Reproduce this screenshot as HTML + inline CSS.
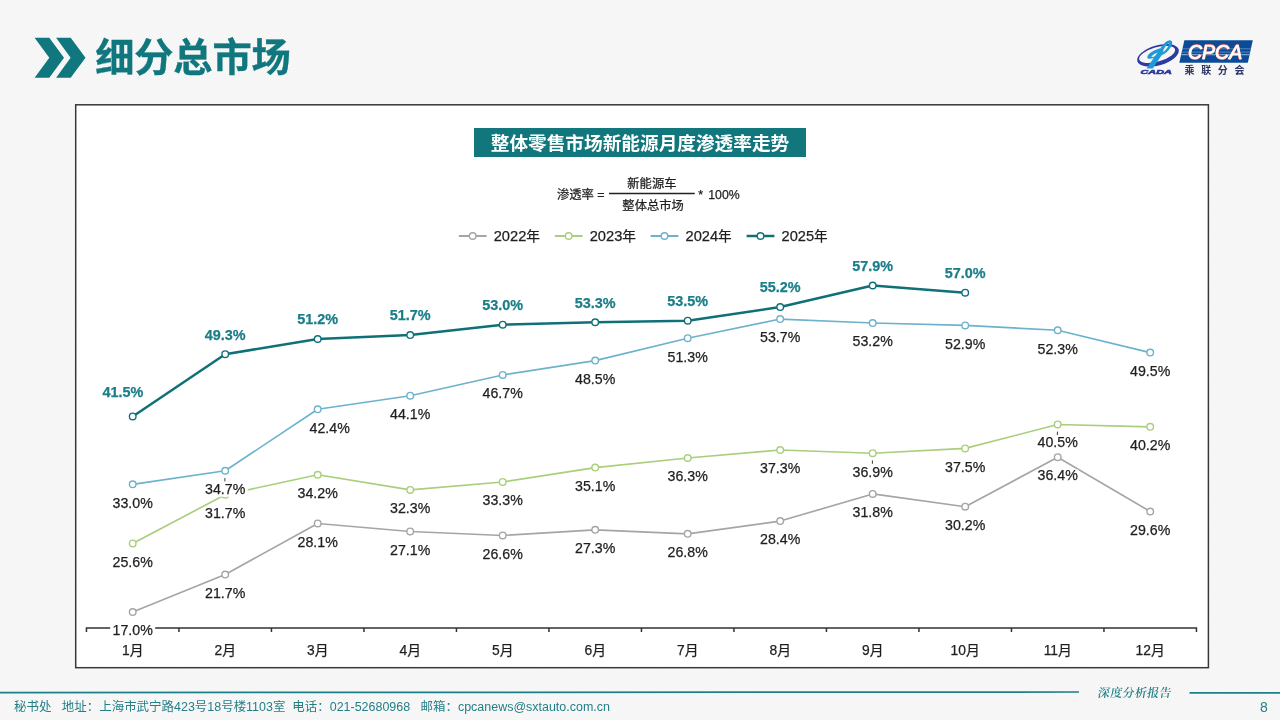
<!DOCTYPE html>
<html lang="zh-CN">
<head>
<meta charset="utf-8">
<title>细分总市场</title>
<style>
html,body{margin:0;padding:0;}
body{width:1280px;height:720px;overflow:hidden;position:relative;font-family:"Liberation Sans", "Noto Sans CJK SC", sans-serif;
background-color:#f5f5f5;
background-image:linear-gradient(135deg,#f9f9f9 25%,#f1f1f1 25%,#f1f1f1 50%,#f9f9f9 50%,#f9f9f9 75%,#f1f1f1 75%);background-size:3px 3px;}
.abs{position:absolute;}
.chev{position:absolute;left:0;top:0;}
h1{position:absolute;left:95.3px;top:28.6px;margin:0;font-size:39.2px;line-height:58px;font-weight:700;color:#0F777D;
font-family:"Liberation Sans","Noto Sans CJK SC",sans-serif;letter-spacing:-0.15px;white-space:nowrap;-webkit-text-stroke:0.35px #0F777D;}
.box{position:absolute;left:75px;top:104px;width:1134px;height:565px;background:#fff;}
.banner{position:absolute;left:474.4px;top:127.6px;width:331.2px;height:29.3px;background:#11777C;color:#fff;
font-weight:700;font-size:18.67px;line-height:31px;text-align:center;overflow:hidden;white-space:nowrap;letter-spacing:0;}
.chart{position:absolute;left:0;top:0;}
.chart text{font-family:"Liberation Sans", "Noto Sans CJK SC", sans-serif;fill:#1f1f1f;stroke:#1f1f1f;stroke-width:0.25px;}
.chart .cat{font-size:13.8px;text-anchor:middle;}
.chart .lb{font-size:14.2px;text-anchor:middle;}
.chart .lb.b{font-weight:700;fill:#1A7E88;stroke:#1A7E88;font-size:14.4px;}
.chart .lg{font-size:14.67px;}
.chart .fm{font-size:12.3px;}
.fl{position:absolute;left:0;top:686px;}
.ftxt{position:absolute;left:14px;top:698.2px;font-size:12.47px;line-height:18px;color:#237F86;white-space:pre;}
.rep{position:absolute;left:1097.5px;top:684.3px;width:76px;font-family:"Liberation Serif","Noto Serif CJK SC",serif;font-weight:600;
font-size:12px;line-height:18px;color:#237F86;white-space:nowrap;letter-spacing:0.3px;transform:skewX(-9deg);}
.cpca{position:absolute;left:1187.8px;top:40.2px;font-style:italic;font-size:19.8px;line-height:24px;color:#fff;white-space:nowrap;transform-origin:0 0;transform:scaleX(0.985);-webkit-text-stroke:0.7px #fff;text-shadow:0.6px 0 0 #D9605A,-0.6px 0 0 #D9605A,0 0.6px 0 #D9605A,0 -0.6px 0 #D9605A,0.45px 0.45px 0 #D9605A,-0.45px 0.45px 0 #D9605A,0.45px -0.45px 0 #D9605A,-0.45px -0.45px 0 #D9605A;}
.pg{position:absolute;left:1256px;top:698px;width:16px;text-align:center;font-size:14px;line-height:18px;color:#237F86;}
</style>
</head>
<body>
<svg class="chev" width="100" height="90" viewBox="0 0 100 90">
<path d="M34.6 37.7H49.3L64 57.7L49.3 77.7H34.6L49.3 57.7Z" fill="#0F777D"/>
<path d="M56.1 37.7H70.7L85.5 57.7L70.7 77.7H56.1L70.6 57.7Z" fill="#0F777D"/>
</svg>
<h1>细分总市场</h1>
<svg class="logo" width="160" height="60" viewBox="1120 30 160 60" style="position:absolute;left:1120px;top:30px;">
<g transform="rotate(-16 1158 55.3)">
<path fill="#2E3A9F" fill-rule="evenodd" d="M1136.5 55.3a21.5 10 0 1 0 43 0a21.5 10 0 1 0 -43 0ZM1138.8 54.2a18.6 7.2 0 1 0 37.2 0a18.6 7.2 0 1 0 -37.2 0Z"/>
</g>
<path fill="#1E9AD8" d="M1146.6 68.6L1153.8 57.8C1150 59.6 1146.6 59 1147.4 56.4C1148.4 53.2 1154.6 49.6 1160.6 48.2C1163.4 43.6 1167.6 39.8 1170.6 40.4C1173.4 41.2 1172.6 46.4 1167.4 51.4C1165.6 53 1163.6 54.2 1161.6 55.2L1152.8 68.6ZM1157.6 52.4C1154.6 53.6 1151.8 55.4 1151.4 56.6C1151.4 57.4 1153.2 57 1154.8 56.2ZM1163.2 52.2C1166.4 49.6 1169.4 45.4 1169 43.2C1167.8 43.4 1165.2 46.6 1163.4 50Z"/>
<text x="1140.5" y="74.2" font-family="'Liberation Sans',sans-serif" font-weight="700" font-style="italic" font-size="5.8" fill="#2E3A9F" stroke="#2E3A9F" stroke-width="0.55" textLength="31.3" lengthAdjust="spacingAndGlyphs">CADA</text>
<path fill="#0C4B97" d="M1184.4 40.2H1252.8L1247.8 62.7H1179.3Z"/>
<path stroke="#7FB0DD" stroke-width="0.6" fill="none" d="M1182.4 48.8H1250.8M1181.7 52.1H1250.1"/>
<path stroke="#6FA6D6" stroke-width="1.3" fill="none" d="M1181.2 54.7H1249.6"/>
<text x="1184.5" y="74.3" font-family="'Liberation Sans','Noto Sans CJK SC',sans-serif" font-weight="700" font-size="10" fill="#2B3566" textLength="60" lengthAdjust="spacing">乘联分会</text>
</svg>

<div class="cpca">CPCA</div>
<div class="box"></div>
<svg class="chev" width="1280" height="720" viewBox="0 0 1280 720"><rect x="75.7" y="104.8" width="1132.7" height="562.9" fill="#fff" stroke="#383838" stroke-width="1.5"/></svg>
<div class="banner">整体零售市场新能源月度渗透率走势</div>
<svg class="chart" width="1280" height="720" viewBox="0 0 1280 720">
<path d="M86.45 632 V627.9 H1196.45 V632" fill="none" stroke="#333" stroke-width="1.5"/>
<path d="M178.95 627.9V632M271.45 627.9V632M363.95 627.9V632M456.45 627.9V632M548.95 627.9V632M641.45 627.9V632M733.95 627.9V632M826.45 627.9V632M918.95 627.9V632M1011.45 627.9V632M1103.95 627.9V632" fill="none" stroke="#333" stroke-width="1.5"/>
<text class="cat" x="132.70" y="655.0">1月</text>
<text class="cat" x="225.20" y="655.0">2月</text>
<text class="cat" x="317.70" y="655.0">3月</text>
<text class="cat" x="410.20" y="655.0">4月</text>
<text class="cat" x="502.70" y="655.0">5月</text>
<text class="cat" x="595.20" y="655.0">6月</text>
<text class="cat" x="687.70" y="655.0">7月</text>
<text class="cat" x="780.20" y="655.0">8月</text>
<text class="cat" x="872.70" y="655.0">9月</text>
<text class="cat" x="965.20" y="655.0">10月</text>
<text class="cat" x="1057.70" y="655.0">11月</text>
<text class="cat" x="1150.20" y="655.0">12月</text>
<polyline points="132.70,612.11 225.20,574.58 317.70,523.47 410.20,531.46 502.70,535.45 595.20,529.86 687.70,533.85 780.20,521.08 872.70,493.93 965.20,506.70 1057.70,457.20 1150.20,511.49" fill="none" stroke="#A5A5A5" stroke-width="1.65" stroke-linejoin="round" stroke-linecap="round"/>
<circle cx="132.70" cy="612.11" r="3.3" fill="#fff" stroke="#A5A5A5" stroke-width="1.4"/>
<circle cx="225.20" cy="574.58" r="3.3" fill="#fff" stroke="#A5A5A5" stroke-width="1.4"/>
<circle cx="317.70" cy="523.47" r="3.3" fill="#fff" stroke="#A5A5A5" stroke-width="1.4"/>
<circle cx="410.20" cy="531.46" r="3.3" fill="#fff" stroke="#A5A5A5" stroke-width="1.4"/>
<circle cx="502.70" cy="535.45" r="3.3" fill="#fff" stroke="#A5A5A5" stroke-width="1.4"/>
<circle cx="595.20" cy="529.86" r="3.3" fill="#fff" stroke="#A5A5A5" stroke-width="1.4"/>
<circle cx="687.70" cy="533.85" r="3.3" fill="#fff" stroke="#A5A5A5" stroke-width="1.4"/>
<circle cx="780.20" cy="521.08" r="3.3" fill="#fff" stroke="#A5A5A5" stroke-width="1.4"/>
<circle cx="872.70" cy="493.93" r="3.3" fill="#fff" stroke="#A5A5A5" stroke-width="1.4"/>
<circle cx="965.20" cy="506.70" r="3.3" fill="#fff" stroke="#A5A5A5" stroke-width="1.4"/>
<circle cx="1057.70" cy="457.20" r="3.3" fill="#fff" stroke="#A5A5A5" stroke-width="1.4"/>
<circle cx="1150.20" cy="511.49" r="3.3" fill="#fff" stroke="#A5A5A5" stroke-width="1.4"/>
<polyline points="132.70,543.43 225.20,494.73 317.70,474.76 410.20,489.93 502.70,481.95 595.20,467.58 687.70,457.99 780.20,450.01 872.70,453.20 965.20,448.41 1057.70,424.46 1150.20,426.85" fill="none" stroke="#A9CE7C" stroke-width="1.65" stroke-linejoin="round" stroke-linecap="round"/>
<circle cx="132.70" cy="543.43" r="3.3" fill="#fff" stroke="#A9CE7C" stroke-width="1.4"/>
<circle cx="225.20" cy="494.73" r="3.3" fill="#fff" stroke="#A9CE7C" stroke-width="1.4"/>
<circle cx="317.70" cy="474.76" r="3.3" fill="#fff" stroke="#A9CE7C" stroke-width="1.4"/>
<circle cx="410.20" cy="489.93" r="3.3" fill="#fff" stroke="#A9CE7C" stroke-width="1.4"/>
<circle cx="502.70" cy="481.95" r="3.3" fill="#fff" stroke="#A9CE7C" stroke-width="1.4"/>
<circle cx="595.20" cy="467.58" r="3.3" fill="#fff" stroke="#A9CE7C" stroke-width="1.4"/>
<circle cx="687.70" cy="457.99" r="3.3" fill="#fff" stroke="#A9CE7C" stroke-width="1.4"/>
<circle cx="780.20" cy="450.01" r="3.3" fill="#fff" stroke="#A9CE7C" stroke-width="1.4"/>
<circle cx="872.70" cy="453.20" r="3.3" fill="#fff" stroke="#A9CE7C" stroke-width="1.4"/>
<circle cx="965.20" cy="448.41" r="3.3" fill="#fff" stroke="#A9CE7C" stroke-width="1.4"/>
<circle cx="1057.70" cy="424.46" r="3.3" fill="#fff" stroke="#A9CE7C" stroke-width="1.4"/>
<circle cx="1150.20" cy="426.85" r="3.3" fill="#fff" stroke="#A9CE7C" stroke-width="1.4"/>
<polyline points="132.70,484.35 225.20,470.77 317.70,409.29 410.20,395.71 502.70,374.95 595.20,360.58 687.70,338.22 780.20,319.06 872.70,323.05 965.20,325.44 1057.70,330.23 1150.20,352.59" fill="none" stroke="#6DB2CC" stroke-width="1.65" stroke-linejoin="round" stroke-linecap="round"/>
<circle cx="132.70" cy="484.35" r="3.3" fill="#fff" stroke="#6DB2CC" stroke-width="1.4"/>
<circle cx="225.20" cy="470.77" r="3.3" fill="#fff" stroke="#6DB2CC" stroke-width="1.4"/>
<circle cx="317.70" cy="409.29" r="3.3" fill="#fff" stroke="#6DB2CC" stroke-width="1.4"/>
<circle cx="410.20" cy="395.71" r="3.3" fill="#fff" stroke="#6DB2CC" stroke-width="1.4"/>
<circle cx="502.70" cy="374.95" r="3.3" fill="#fff" stroke="#6DB2CC" stroke-width="1.4"/>
<circle cx="595.20" cy="360.58" r="3.3" fill="#fff" stroke="#6DB2CC" stroke-width="1.4"/>
<circle cx="687.70" cy="338.22" r="3.3" fill="#fff" stroke="#6DB2CC" stroke-width="1.4"/>
<circle cx="780.20" cy="319.06" r="3.3" fill="#fff" stroke="#6DB2CC" stroke-width="1.4"/>
<circle cx="872.70" cy="323.05" r="3.3" fill="#fff" stroke="#6DB2CC" stroke-width="1.4"/>
<circle cx="965.20" cy="325.44" r="3.3" fill="#fff" stroke="#6DB2CC" stroke-width="1.4"/>
<circle cx="1057.70" cy="330.23" r="3.3" fill="#fff" stroke="#6DB2CC" stroke-width="1.4"/>
<circle cx="1150.20" cy="352.59" r="3.3" fill="#fff" stroke="#6DB2CC" stroke-width="1.4"/>
<polyline points="132.70,416.47 225.20,354.19 317.70,339.02 410.20,335.03 502.70,324.64 595.20,322.25 687.70,320.65 780.20,307.08 872.70,285.52 965.20,292.70" fill="none" stroke="#0F7078" stroke-width="2.5" stroke-linejoin="round" stroke-linecap="round"/>
<circle cx="132.70" cy="416.47" r="3.3" fill="#fff" stroke="#0F7078" stroke-width="1.4"/>
<circle cx="225.20" cy="354.19" r="3.3" fill="#fff" stroke="#0F7078" stroke-width="1.4"/>
<circle cx="317.70" cy="339.02" r="3.3" fill="#fff" stroke="#0F7078" stroke-width="1.4"/>
<circle cx="410.20" cy="335.03" r="3.3" fill="#fff" stroke="#0F7078" stroke-width="1.4"/>
<circle cx="502.70" cy="324.64" r="3.3" fill="#fff" stroke="#0F7078" stroke-width="1.4"/>
<circle cx="595.20" cy="322.25" r="3.3" fill="#fff" stroke="#0F7078" stroke-width="1.4"/>
<circle cx="687.70" cy="320.65" r="3.3" fill="#fff" stroke="#0F7078" stroke-width="1.4"/>
<circle cx="780.20" cy="307.08" r="3.3" fill="#fff" stroke="#0F7078" stroke-width="1.4"/>
<circle cx="872.70" cy="285.52" r="3.3" fill="#fff" stroke="#0F7078" stroke-width="1.4"/>
<circle cx="965.20" cy="292.70" r="3.3" fill="#fff" stroke="#0F7078" stroke-width="1.4"/>
<rect x="110.20" y="625.40" width="45.0" height="12.6" fill="#fff"/>
<text class="lb" x="132.70" y="635.40">17.0%</text>
<rect x="204.60" y="587.88" width="41.2" height="12.6" fill="#fff"/>
<text class="lb" x="225.20" y="597.88">21.7%</text>
<rect x="297.10" y="536.77" width="41.2" height="12.6" fill="#fff"/>
<text class="lb" x="317.70" y="546.77">28.1%</text>
<rect x="389.60" y="544.76" width="41.2" height="12.6" fill="#fff"/>
<text class="lb" x="410.20" y="554.76">27.1%</text>
<rect x="482.10" y="548.75" width="41.2" height="12.6" fill="#fff"/>
<text class="lb" x="502.70" y="558.75">26.6%</text>
<rect x="574.60" y="543.16" width="41.2" height="12.6" fill="#fff"/>
<text class="lb" x="595.20" y="553.16">27.3%</text>
<rect x="667.10" y="547.15" width="41.2" height="12.6" fill="#fff"/>
<text class="lb" x="687.70" y="557.15">26.8%</text>
<rect x="759.60" y="534.38" width="41.2" height="12.6" fill="#fff"/>
<text class="lb" x="780.20" y="544.38">28.4%</text>
<rect x="852.10" y="507.23" width="41.2" height="12.6" fill="#fff"/>
<text class="lb" x="872.70" y="517.23">31.8%</text>
<rect x="944.60" y="520.00" width="41.2" height="12.6" fill="#fff"/>
<text class="lb" x="965.20" y="530.00">30.2%</text>
<rect x="1037.10" y="469.50" width="41.2" height="12.6" fill="#fff"/>
<text class="lb" x="1057.70" y="479.50">36.4%</text>
<rect x="1129.60" y="524.79" width="41.2" height="12.6" fill="#fff"/>
<text class="lb" x="1150.20" y="534.79">29.6%</text>
<rect x="112.10" y="556.73" width="41.2" height="12.6" fill="#fff"/>
<text class="lb" x="132.70" y="566.73">25.6%</text>
<rect x="204.60" y="508.03" width="41.2" height="12.6" fill="#fff"/>
<text class="lb" x="225.20" y="518.03">31.7%</text>
<rect x="297.10" y="488.06" width="41.2" height="12.6" fill="#fff"/>
<text class="lb" x="317.70" y="498.06">34.2%</text>
<rect x="389.60" y="503.23" width="41.2" height="12.6" fill="#fff"/>
<text class="lb" x="410.20" y="513.23">32.3%</text>
<rect x="482.10" y="495.25" width="41.2" height="12.6" fill="#fff"/>
<text class="lb" x="502.70" y="505.25">33.3%</text>
<rect x="574.60" y="480.88" width="41.2" height="12.6" fill="#fff"/>
<text class="lb" x="595.20" y="490.88">35.1%</text>
<rect x="667.10" y="471.29" width="41.2" height="12.6" fill="#fff"/>
<text class="lb" x="687.70" y="481.29">36.3%</text>
<rect x="759.60" y="463.31" width="41.2" height="12.6" fill="#fff"/>
<text class="lb" x="780.20" y="473.31">37.3%</text>
<rect x="852.10" y="466.50" width="41.2" height="12.6" fill="#fff"/>
<path d="M872.40 460.40v3.4" stroke="#222" stroke-width="0.9"/>
<text class="lb" x="872.70" y="476.50">36.9%</text>
<rect x="944.60" y="461.71" width="41.2" height="12.6" fill="#fff"/>
<text class="lb" x="965.20" y="471.71">37.5%</text>
<rect x="1037.10" y="436.96" width="41.2" height="12.6" fill="#fff"/>
<path d="M1057.40 431.66v3.4" stroke="#222" stroke-width="0.9"/>
<text class="lb" x="1057.70" y="446.96">40.5%</text>
<rect x="1129.60" y="440.15" width="41.2" height="12.6" fill="#fff"/>
<text class="lb" x="1150.20" y="450.15">40.2%</text>
<rect x="112.10" y="497.65" width="41.2" height="12.6" fill="#fff"/>
<text class="lb" x="132.70" y="507.65">33.0%</text>
<rect x="202.70" y="484.07" width="45.0" height="12.6" fill="#fff"/>
<path d="M224.90 477.97v3.4" stroke="#222" stroke-width="0.9"/>
<text class="lb" x="225.20" y="494.07">34.7%</text>
<rect x="309.10" y="422.59" width="41.2" height="12.6" fill="#fff"/>
<text class="lb" x="329.70" y="432.59">42.4%</text>
<rect x="389.60" y="409.01" width="41.2" height="12.6" fill="#fff"/>
<text class="lb" x="410.20" y="419.01">44.1%</text>
<rect x="482.10" y="388.25" width="41.2" height="12.6" fill="#fff"/>
<text class="lb" x="502.70" y="398.25">46.7%</text>
<rect x="574.60" y="373.88" width="41.2" height="12.6" fill="#fff"/>
<text class="lb" x="595.20" y="383.88">48.5%</text>
<rect x="667.10" y="351.52" width="41.2" height="12.6" fill="#fff"/>
<text class="lb" x="687.70" y="361.52">51.3%</text>
<rect x="759.60" y="332.36" width="41.2" height="12.6" fill="#fff"/>
<text class="lb" x="780.20" y="342.36">53.7%</text>
<rect x="852.10" y="336.35" width="41.2" height="12.6" fill="#fff"/>
<text class="lb" x="872.70" y="346.35">53.2%</text>
<rect x="944.60" y="338.74" width="41.2" height="12.6" fill="#fff"/>
<text class="lb" x="965.20" y="348.74">52.9%</text>
<rect x="1037.10" y="343.53" width="41.2" height="12.6" fill="#fff"/>
<text class="lb" x="1057.70" y="353.53">52.3%</text>
<rect x="1129.60" y="365.89" width="41.2" height="12.6" fill="#fff"/>
<text class="lb" x="1150.20" y="375.89">49.5%</text>
<text class="lb b" x="122.90" y="397.27">41.5%</text>
<text class="lb b" x="225.20" y="339.59">49.3%</text>
<text class="lb b" x="317.70" y="324.42">51.2%</text>
<text class="lb b" x="410.20" y="320.43">51.7%</text>
<text class="lb b" x="502.70" y="310.04">53.0%</text>
<text class="lb b" x="595.20" y="307.65">53.3%</text>
<text class="lb b" x="687.70" y="306.05">53.5%</text>
<text class="lb b" x="780.20" y="292.48">55.2%</text>
<text class="lb b" x="872.70" y="270.92">57.9%</text>
<text class="lb b" x="965.20" y="278.10">57.0%</text>
<path d="M458.8 236H486.6" stroke="#A5A5A5" stroke-width="1.95"/>
<circle cx="472.7" cy="236" r="3.3" fill="#fff" stroke="#A5A5A5" stroke-width="1.4"/>
<text class="lg" x="493.7" y="241.4">2022<tspan font-size="13.6" dy="-0.4">年</tspan></text>
<path d="M554.8 236H582.6" stroke="#A9CE7C" stroke-width="1.95"/>
<circle cx="568.7" cy="236" r="3.3" fill="#fff" stroke="#A9CE7C" stroke-width="1.4"/>
<text class="lg" x="589.7" y="241.4">2023<tspan font-size="13.6" dy="-0.4">年</tspan></text>
<path d="M650.6 236H678.4" stroke="#6DB2CC" stroke-width="1.95"/>
<circle cx="664.5" cy="236" r="3.3" fill="#fff" stroke="#6DB2CC" stroke-width="1.4"/>
<text class="lg" x="685.5" y="241.4">2024<tspan font-size="13.6" dy="-0.4">年</tspan></text>
<path d="M746.6 236H774.4" stroke="#0F7078" stroke-width="2.50"/>
<circle cx="760.5" cy="236" r="3.3" fill="#fff" stroke="#0F7078" stroke-width="1.4"/>
<text class="lg" x="781.5" y="241.4">2025<tspan font-size="13.6" dy="-0.4">年</tspan></text>
<text class="fm" x="557" y="198.6">渗透率 =</text>
<text class="fm" x="651.9" y="187.6" text-anchor="middle">新能源车</text>
<path d="M609 193.6H694.7" stroke="#222" stroke-width="1.5"/>
<text class="fm" x="653.1" y="210.4" text-anchor="middle">整体总市场</text>
<text class="fm" x="698.2" y="198.6">* <tspan dx="1.8">100%</tspan></text>
</svg>
<svg class="fl" width="1280" height="12" viewBox="0 686 1280 12"><path d="M0 692.6L1079 692" stroke="#1B8087" stroke-width="1.7" fill="none"/><path d="M1189.5 692.8H1280" stroke="#1B8087" stroke-width="1.7" fill="none"/></svg>
<div class="ftxt">秘书处   地址：上海市武宁路423号18号楼1103室  电话：021-52680968   邮箱：cpcanews@sxtauto.com.cn</div>
<div class="rep">深度分析报告</div>
<div class="pg">8</div>
</body>
</html>
